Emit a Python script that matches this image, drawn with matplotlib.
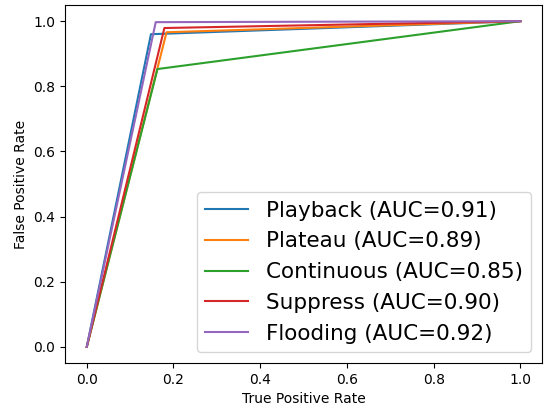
import matplotlib
matplotlib.use("Agg")
import matplotlib.pyplot as plt

# ROC points (x, y) for each attack type
labels = ["Playback", "Plateau", "Continuous", "Suppress", "Flooding"]
aucs = [0.91, 0.89, 0.85, 0.90, 0.92]
x_pts = [
    [0.0, 0.148, 1.0],
    [0.0, 0.184, 1.0],
    [0.0, 0.163, 1.0],
    [0.0, 0.179, 1.0],
    [0.0, 0.159, 1.0],
]
y_pts = [
    [0.0, 0.960, 1.0],
    [0.0, 0.966, 1.0],
    [0.0, 0.853, 1.0],
    [0.0, 0.979, 1.0],
    [0.0, 0.997, 1.0],
]

fig = plt.figure(figsize=(5.47, 4.08), dpi=100)
ax = fig.add_subplot(111)
fig.subplots_adjust(left=0.119, right=0.991, bottom=0.110, top=0.988)

for lab, auc, xs, ys in zip(labels, aucs, x_pts, y_pts):
    ax.plot(xs, ys, label=f"{lab} (AUC={auc:.2f})")

ax.set_xlabel("True Positive Rate")
ax.set_ylabel("False Positive Rate")
ax.legend(fontsize=15.5, loc="lower right")

fig.savefig("out.png", dpi=100)
